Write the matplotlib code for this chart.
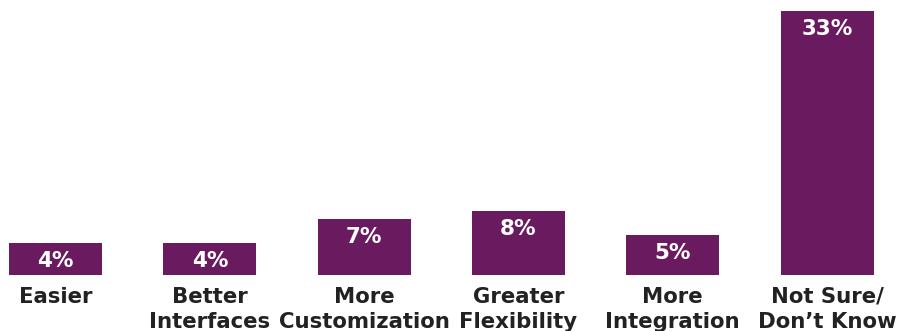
import matplotlib
matplotlib.use("Agg")
import matplotlib.pyplot as plt
from matplotlib.transforms import offset_copy

categories = ["Easier", "Better\nInterfaces", "More\nCustomization", "Greater\nFlexibility",
              "More\nIntegration", "Not Sure/\nDon\u2019t Know"]
values = [4, 4, 7, 8, 5, 33]
value_labels = ["4%", "4%", "7%", "8%", "5%", "33%"]

W, H, DPI = 904, 331, 100
fig = plt.figure(figsize=(W / DPI, H / DPI), dpi=DPI)
ax = fig.add_axes([0, 0, 1, 1])

spacing = 154.3  # px between bar centers
x0 = 55.5        # px center of first bar
px_per_unit = 8.0
base_px = 275    # bar bottom in px from top

ax.set_xlim(-x0 / spacing, (W - x0) / spacing)
ax.set_ylim(-(H - base_px) / px_per_unit, base_px / px_per_unit)

color = "#6A1A5E"
xs = list(range(len(values)))
ax.bar(xs, values, width=93 / spacing, color=color, linewidth=0)

for x, v, lab in zip(xs, values, value_labels):
    t = offset_copy(ax.transData, fig=fig, x=0, y=-18, units="dots")
    ax.text(x, v, lab, transform=t, ha="center", va="center", color="white",
            fontsize=15.5, fontweight="bold", family="DejaVu Sans")

for x, c in zip(xs, categories):
    t = offset_copy(ax.transData, fig=fig, x=0, y=-12, units="dots")
    ax.text(x, 0, c, transform=t, ha="center", va="top", color="#222222",
            fontsize=15.3, fontweight="bold", family="DejaVu Sans", linespacing=1.32)

ax.axis("off")
fig.savefig("out.png", dpi=DPI)
